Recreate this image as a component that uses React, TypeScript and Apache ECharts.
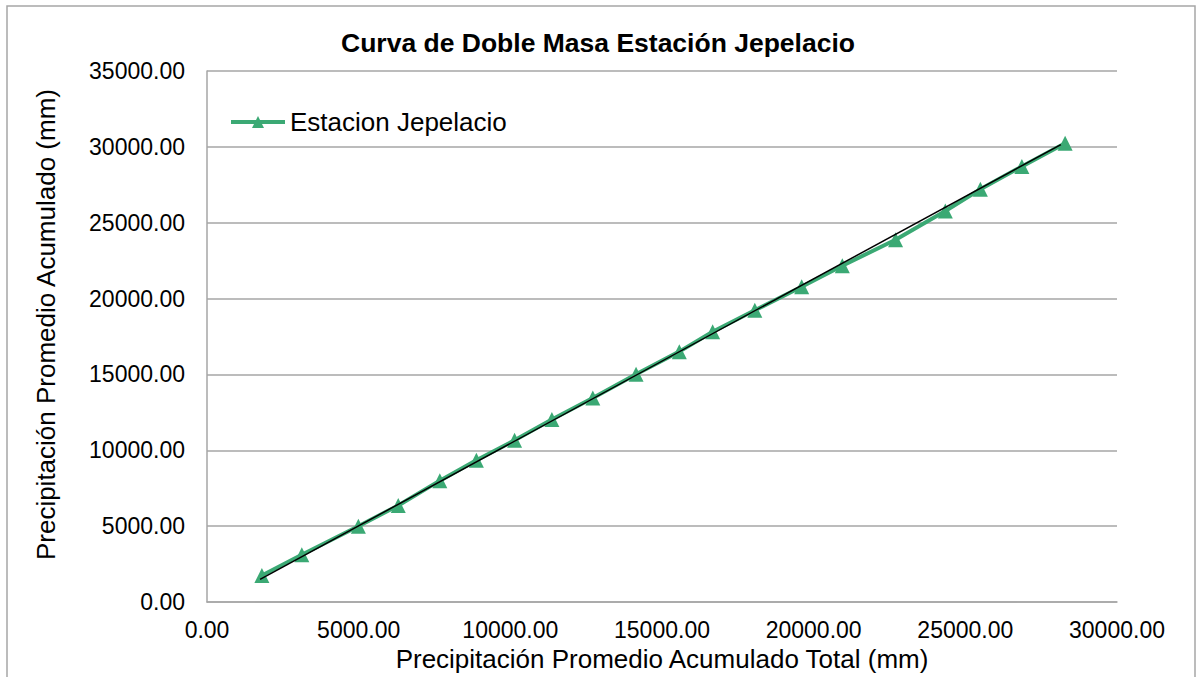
import React, { useEffect, useRef } from "react";
import * as echarts from "echarts";

const titleText = "Curva de Doble Masa Estación Jepelacio";
const seriesName = "Estacion Jepelacio";
const xAxisName = "Precipitación Promedio Acumulado Total (mm)";
const yAxisName = "Precipitación Promedio Acumulado (mm)";

const xValues = [1810, 3125, 4990, 6305, 7675, 8880, 10140, 11370, 12720, 14145, 15570, 16670, 18060, 19605, 20945, 22700, 24340, 25495, 26865, 28290];
const yValues = [1750, 3120, 5000, 6370, 8005, 9350, 10660, 12035, 13455, 15020, 16505, 17815, 19230, 20780, 22170, 23875, 25770, 27205, 28710, 30240];

const trendX = [1750, 28150];
const trendY = [1500, 30150];

const FONT = "'Liberation Sans', Arial, sans-serif";
const GREEN = "#3BA974";
const GRID_GRAY = "#a6a6a6";

export default function App() {
  const ref = useRef<HTMLDivElement>(null);

  useEffect(() => {
    if (!ref.current) return;
    const chart = echarts.init(ref.current, null, { renderer: "svg" });
    const mainData = xValues.map((x, i) => [x, yValues[i]]);
    const trendData = trendX.map((x, i) => [x, trendY[i]]);
    chart.setOption({
      animation: false,
      backgroundColor: "#ffffff",
      textStyle: { fontFamily: FONT },
      title: {
        text: titleText,
        left: "center",
        top: 24,
        textStyle: { fontFamily: FONT, fontSize: 26.5, fontWeight: "bold", color: "#000" },
      },
      legend: {
        data: [seriesName],
        left: 229,
        top: 109,
        padding: 0,
        itemWidth: 54,
        itemHeight: 15,
        itemGap: 6,
        lineStyle: { width: 4 },
        textStyle: { fontFamily: FONT, fontSize: 26, color: "#000" },
      },
      grid: { left: 207, width: 910, top: 71, height: 535 },
      xAxis: {
        type: "value",
        min: 0,
        max: 30000,
        interval: 5000,
        name: xAxisName,
        nameLocation: "middle",
        nameGap: 42,
        nameTextStyle: { fontFamily: FONT, fontSize: 26, color: "#000" },
        axisLine: { show: true, lineStyle: { color: GRID_GRAY, width: 1.5 } },
        axisTick: { show: false },
        splitLine: { show: false },
        axisLabel: {
          margin: 16,
          fontFamily: FONT,
          fontSize: 23,
          color: "#000",
          formatter: (v: number) => v.toFixed(2),
        },
      },
      yAxis: {
        type: "value",
        min: 0,
        max: 35000,
        interval: 5000,
        name: yAxisName,
        nameLocation: "middle",
        nameGap: 148,
        nameTextStyle: { fontFamily: FONT, fontSize: 26, color: "#000", padding: [0, 0, 0, 24] },
        axisLine: { show: true, lineStyle: { color: GRID_GRAY, width: 1.5 } },
        axisTick: { show: false },
        splitLine: { show: true, lineStyle: { color: GRID_GRAY, width: 1.5 } },
        axisLabel: {
          margin: 22,
          fontFamily: FONT,
          fontSize: 23,
          color: "#000",
          formatter: (v: number) => v.toFixed(2),
        },
      },
      graphic: [
        {
          type: "rect",
          shape: { x: 7, y: 6, width: 1188, height: 720 },
          style: { fill: "none", stroke: GRID_GRAY, lineWidth: 1.5 },
          silent: true,
          z: -1,
        },
      ],
      series: [
        {
          name: seriesName,
          type: "line",
          data: mainData,
          symbol: "triangle",
          symbolSize: 15,
          showAllSymbol: true,
          itemStyle: { color: GREEN },
          lineStyle: { color: GREEN, width: 4 },
          z: 2,
        },
        {
          name: "Lineal",
          type: "line",
          data: trendData,
          symbol: "none",
          lineStyle: { color: "#000", width: 1.5 },
          z: 3,
          silent: true,
        },
      ],
    });
    return () => chart.dispose();
  }, []);

  return (
    <div
      ref={ref}
      style={{ position: "fixed", left: 0, top: 0, width: 1196, height: 677 }}
    />
  );
}
